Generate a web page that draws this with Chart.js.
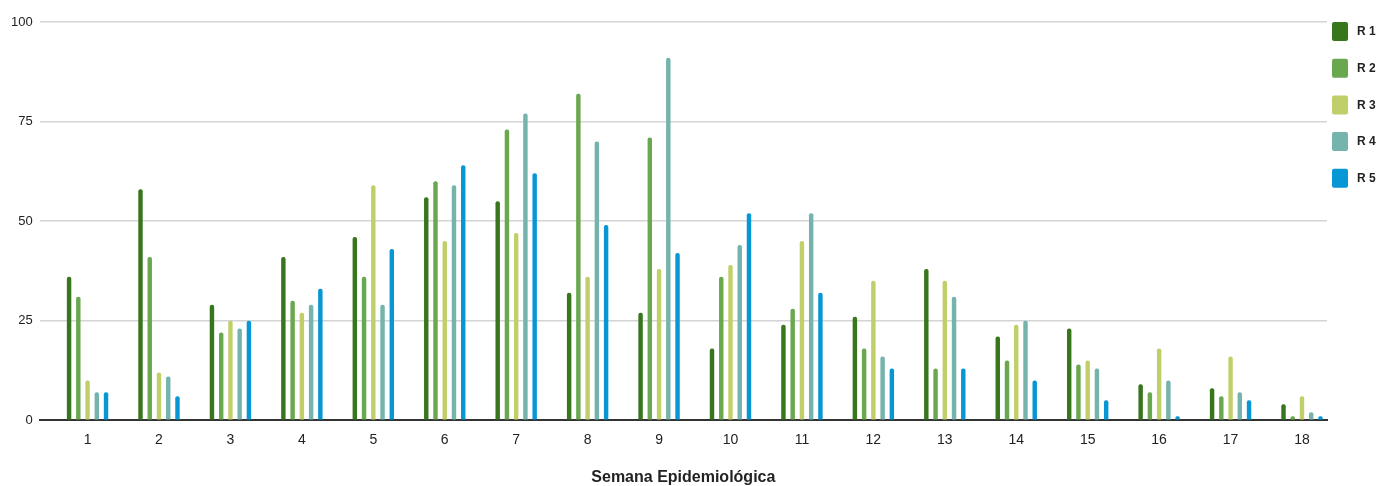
<!DOCTYPE html>
<html lang="es">
<head>
<meta charset="UTF-8">
<title>Semana Epidemiológica</title>
<script src="https://cdn.jsdelivr.net/npm/chart.js"></script>
<style>
  body { margin: 0; background: #fff; }
  #wrap { width: 1382px; height: 486px; }
</style>
</head>
<body>
<div id="wrap"><canvas id="chart"></canvas></div>
<script>
// semanas epidemiológicas
const weeks = [1, 2, 3, 4, 5, 6, 7, 8, 9, 10, 11, 12, 13, 14, 15, 16, 17, 18];
const r1 = [36, 58, 29, 41, 46, 56, 55, 32, 27, 18, 24, 26, 38, 21, 23, 9, 8, 4];
const r2 = [31, 41, 22, 30, 36, 60, 73, 82, 71, 36, 28, 18, 13, 15, 14, 7, 6, 1];
const r3 = [10, 12, 25, 27, 59, 45, 47, 36, 38, 39, 45, 35, 35, 24, 15, 18, 16, 6];
const r4 = [7, 11, 23, 29, 29, 59, 77, 70, 91, 44, 52, 16, 31, 25, 13, 10, 7, 2];
const r5 = [7, 6, 25, 33, 43, 64, 62, 49, 42, 52, 32, 13, 13, 10, 5, 1, 5, 1];
const yTicks = [0, 25, 50, 75, 100];

const names = ['R 1', 'R 2', 'R 3', 'R 4', 'R 5'];
const colors = ['#38761d', '#6aa84f', '#c1cf6b', '#74b4ad', '#0897d5'];
const series = [r1, r2, r3, r4, r5];

const font = "'Liberation Sans', Arial, sans-serif";

// legend drawn by hand so the spacing matches (boxes next to the plot, 36px apart)
const sideLegend = {
    id: 'sideLegend',
    afterDraw(chart) {
        const ctx = chart.ctx;
        const area = chart.chartArea;
        ctx.save();
        ctx.font = 'bold 12px ' + font;
        ctx.textBaseline = 'middle';
        chart.data.datasets.forEach((ds, i) => {
            const x = area.right + 5;
            const y = area.top + i * 36.7;
            ctx.fillStyle = ds.backgroundColor;
            ctx.beginPath();
            ctx.roundRect(x, y, 16, 19, 2);
            ctx.fill();
            ctx.fillStyle = '#222';
            ctx.fillText(ds.label, x + 25, y + 10);
        });
        ctx.restore();
    }
};

const datasets = series.map((vals, i) => ({
    label: names[i],
    data: weeks.map((w, j) => ({ x: w, y: vals[j] })),
    backgroundColor: colors[i],
    borderRadius: 2,
    categoryPercentage: 0.647,
    barPercentage: 0.48
}));

new Chart(document.getElementById('chart'), {
    type: 'bar',
    data: { datasets: datasets },
    options: {
        responsive: true,
        maintainAspectRatio: false,
        animation: false,
        layout: { padding: { left: 4, top: 22, right: 55, bottom: 0 } },
        plugins: {
            tooltip: { enabled: false },
            legend: { display: false }
        },
        scales: {
            x: {
                type: 'linear',
                offset: false,
                min: 0.33,
                max: 18.35,
                grid: { display: false, drawTicks: false },
                border: { display: true, color: '#333', width: 2 },
                ticks: {
                    stepSize: 1,
                    includeBounds: false,
                    autoSkip: false,
                    maxRotation: 0,
                    padding: 12,
                    color: '#222',
                    font: { family: font, size: 14 }
                },
                afterBuildTicks: (axis) => {
                    axis.ticks = weeks.map(w => ({ value: w }));
                },
                title: {
                    display: true,
                    text: 'Semana Epidemiológica',
                    color: '#222',
                    font: { family: font, size: 16, weight: 'bold', lineHeight: 1 },
                    padding: { top: 9, bottom: 0 }
                }
            },
            y: {
                min: 0,
                max: 100,
                border: { display: false },
                grid: {
                    color: (c) => c.tick && c.tick.value === 0 ? 'rgba(0,0,0,0)' : '#d4d4d4',
                    lineWidth: 1.5,
                    drawTicks: false
                },
                afterBuildTicks: (axis) => {
                    axis.ticks = yTicks.map(v => ({ value: v }));
                },
                ticks: {
                    padding: 7,
                    color: '#222',
                    font: { family: font, size: 13 }
                }
            }
        }
    },
    plugins: [sideLegend]
});
</script>
</body>
</html>
